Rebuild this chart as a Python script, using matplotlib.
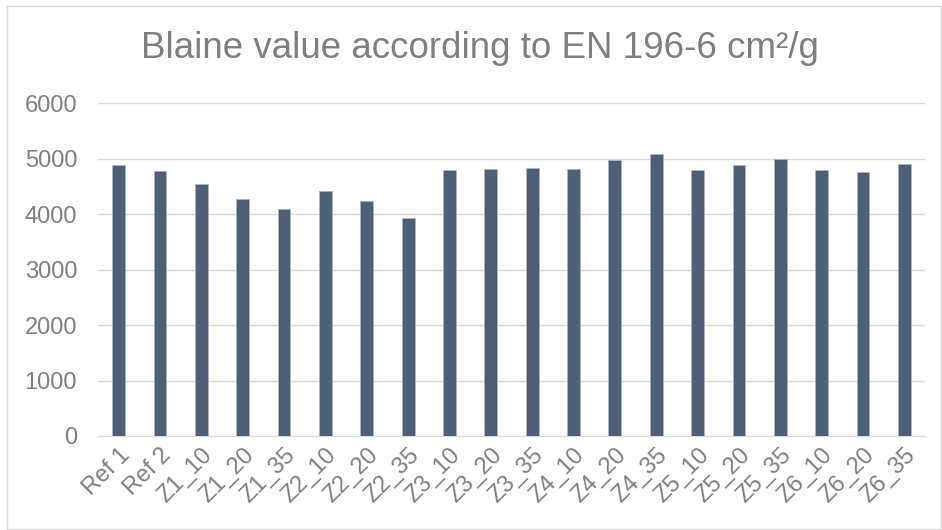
import matplotlib.pyplot as plt
import numpy as np

plt.rcParams['font.family'] = ['Liberation Sans', 'DejaVu Sans']

categories = ['Ref 1', 'Ref 2', 'Z1_10', 'Z1_20', 'Z1_35', 'Z2_10', 'Z2_20', 'Z2_35',
              'Z3_10', 'Z3_20', 'Z3_35', 'Z4_10', 'Z4_20', 'Z4_35',
              'Z5_10', 'Z5_20', 'Z5_35', 'Z6_10', 'Z6_20', 'Z6_35']
blaine = [4877, 4775, 4541, 4265, 4090, 4414, 4229, 3928,
          4787, 4805, 4835, 4811, 4967, 5081,
          4787, 4877, 4997, 4793, 4751, 4895]
yticks = [0, 1000, 2000, 3000, 4000, 5000, 6000]

text_col = '#7f7f7f'
bar_col = '#4f5f76'

fig = plt.figure(figsize=(9.42, 5.30), dpi=100)
ax = fig.add_axes([98/942, 1 - 436/530, (925-98)/942, (436-103)/530])

x = np.arange(len(categories))
ax.bar(x, blaine, width=0.31, color=bar_col, edgecolor='#a9b3c2', linewidth=0.6, zorder=3)

ax.set_xlim(-0.5, len(categories) - 0.5)
ax.set_ylim(0, 6000)
ax.set_yticks(yticks)
ax.set_yticklabels([str(v) for v in yticks], fontsize=17, color=text_col)
ax.set_xticks(x)
ax.set_xticklabels(categories, rotation=45, ha='right', rotation_mode='anchor',
                   fontsize=17, color=text_col)
ax.tick_params(axis='y', length=0, pad=15)
ax.tick_params(axis='x', length=0, pad=6)
ax.grid(axis='y', color='#d9d9d9', linewidth=1, zorder=0)
for s in ['top', 'right', 'left']:
    ax.spines[s].set_visible(False)
ax.spines['bottom'].set_color('#d9d9d9')

fig.text(480/942, 1 - 58/530, 'Blaine value according to EN 196-6 cm²/g',
         ha='center', va='baseline', fontsize=26.5, color=text_col)

# outer chart border
fig.patches.append(plt.Rectangle((7/942, 1/530), 934/942, 523/530, transform=fig.transFigure,
                                 fill=False, edgecolor='#d9d9d9', linewidth=1))

fig.savefig('out.png', dpi=100)
